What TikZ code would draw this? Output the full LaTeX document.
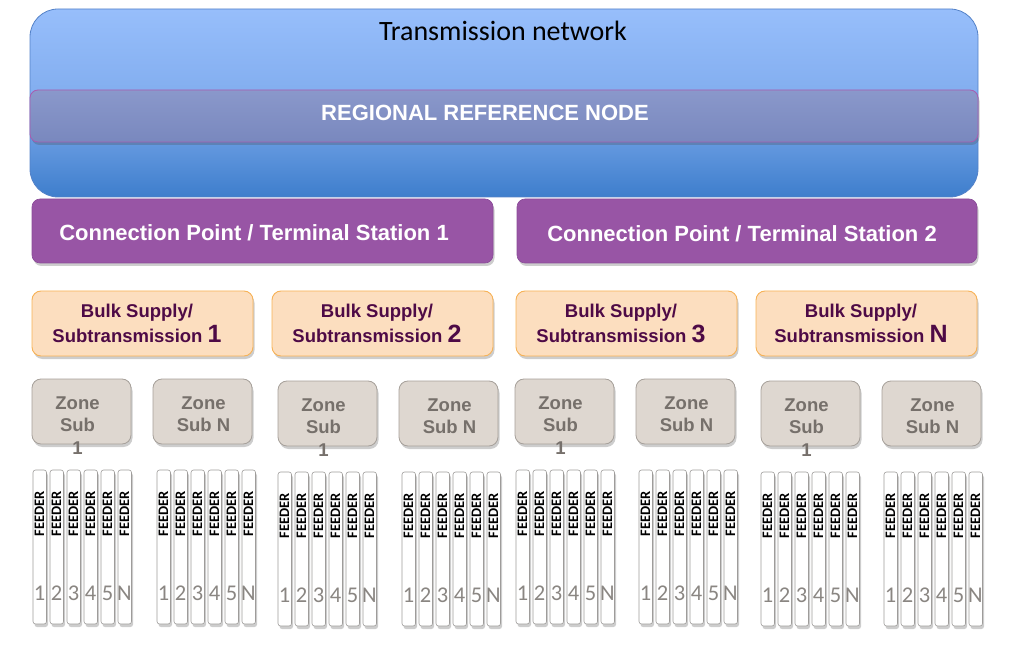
\documentclass[tikz,border=0pt]{standalone}
\usepackage{fontspec}
\setmainfont{Liberation Sans}
\newfontfamily\calibri{Carlito}
\usetikzlibrary{shadows}

\definecolor{tnTop}{RGB}{151,190,251}
\definecolor{tnMid}{RGB}{128,172,238}
\definecolor{tnBot}{RGB}{62,126,204}
\definecolor{tnLine}{RGB}{84,130,200}
\definecolor{rrTop}{RGB}{138,152,203}
\definecolor{rrBot}{RGB}{121,136,190}
\definecolor{rrLine}{RGB}{168,92,176}
\definecolor{cpFill}{RGB}{152,85,165}
\definecolor{cpLine}{RGB}{138,76,152}
\definecolor{bsFill}{RGB}{252,222,191}
\definecolor{bsLine}{RGB}{247,178,86}
\definecolor{bsText}{RGB}{78,10,70}
\definecolor{zsFill}{RGB}{222,215,208}
\definecolor{zsLine}{RGB}{166,160,154}
\definecolor{zsText}{RGB}{118,112,107}
\definecolor{fdLine}{RGB}{158,156,154}
\definecolor{fdNum}{RGB}{138,134,130}

\tikzset{
  shade below/.style={drop shadow={shadow xshift=1.5pt, shadow yshift=-3pt, opacity=0.28, fill=black!70}},
  panel/.style={anchor=north west, inner sep=0pt, outer sep=0pt},
  network/.style={panel, draw=tnLine, line width=0.8pt, rounded corners=28pt,
    top color=tnTop, bottom color=tnBot, middle color=tnMid},
  refband/.style={panel, draw=rrLine, line width=0.8pt, rounded corners=8pt,
    top color=rrTop, bottom color=rrBot, shade below},
  station/.style={panel, draw=cpLine, line width=0.6pt, rounded corners=8pt,
    fill=cpFill, shade below},
  bulk/.style={panel, draw=bsLine, line width=0.9pt, rounded corners=9pt,
    fill=bsFill, shade below, minimum width=221pt, minimum height=65pt},
  zone/.style={panel, draw=zsLine, line width=0.8pt, rounded corners=9pt,
    fill=zsFill, shade below, minimum width=99pt, minimum height=65pt},
  feeder/.style={panel, draw=fdLine, line width=0.6pt, rounded corners=2.5pt,
    fill=white, shade below, minimum width=13.5pt, minimum height=154pt},
  whitebold/.style={text=white, font=\bfseries\fontsize{22}{26}\selectfont, inner sep=0pt},
  bulktext/.style={text=bsText, align=center, inner sep=0pt,
    font=\bfseries\fontsize{18.5}{25}\selectfont},
  zonetext/.style={text=zsText, align=center, inner sep=0pt, anchor=north,
    font=\bfseries\fontsize{18.5}{22.5}\selectfont},
  feedtext/.style={rotate=90, inner sep=0pt, font=\calibri\bfseries\fontsize{14.5}{14.5}\selectfont},
  feednum/.style={text=fdNum, inner sep=0pt, font=\calibri\fontsize{22.5}{22.5}\selectfont},
}
\newcommand{\bignum}[1]{{\fontsize{25}{25}\selectfont #1}}

\begin{document}
\begin{tikzpicture}[x=1pt, y=-1pt]
\useasboundingbox (0,0) rectangle (1010,647);

% transmission network and regional reference node
\node[network, minimum width=948pt, minimum height=188pt] (tn) at (30,9) {};
\node[font=\calibri\fontsize{28}{30}\selectfont, inner sep=0pt] (tnlabel) at (503,31) {Transmission network};
\node[refband, minimum width=948pt, minimum height=52pt] (rrn) at (30,90) {};
\node[whitebold] (rrnlabel) at (485,113) {REGIONAL REFERENCE NODE};

% connection points / terminal stations
\node[station, minimum width=461pt, minimum height=64pt] (cp1) at (32,199) {};
\node[whitebold] (cp1label) at (254,233) {Connection Point / Terminal Station 1};
\node[station, minimum width=460pt, minimum height=64pt] (cp2) at (517,199) {};
\node[whitebold] (cp2label) at (742,234) {Connection Point / Terminal Station 2};

% bulk supply points
\foreach \bx/\bn [count=\b] in {32/1, 272/2, 516/3, 756/N} {
  \node[bulk] (bs\b) at (\bx,291) {};
  \node[bulktext] (bs\b label) at (\bx+105,323) {Bulk Supply/\\Subtransmission \bignum{\bn}};
}

% zone substations
\foreach \zx/\zy/\zoff/\ztxt [count=\z] in {32/379/45.5/{Zone\\Sub\\1}, 153/379/50.5/{Zone\\Sub N},
    278/381/45.5/{Zone\\Sub\\1}, 399/381/50.5/{Zone\\Sub N},
    515/379/45.5/{Zone\\Sub\\1}, 636/379/50.5/{Zone\\Sub N},
    761/381/45.5/{Zone\\Sub\\1}, 882/381/50.5/{Zone\\Sub N}} {
  \node[zone] (zs\z) at (\zx,\zy) {};
  \node[zonetext] (zs\z label) at (\zx+\zoff,\zy+17.5) {\ztxt};
}

% feeders under each zone substation
\foreach \gx/\gy [count=\g] in {33/470, 157/470, 278/472, 402/472,
                               516/470, 639/470, 761/472, 884/472} {
  \foreach \lab [count=\i] in {1,2,3,4,5,N} {
    \pgfmathsetmacro{\fx}{\gx+(\i-1)*17}
    \node[feeder] (fd\g-\i) at (\fx,\gy) {};
    \node[feedtext] (fd\g-\i text) at (\fx+6.5,\gy+44) {FEEDER};
    \node[feednum] (fd\g-\i num) at (\fx+6.5,\gy+123) {\lab};
  }
}
\end{tikzpicture}
\end{document}
